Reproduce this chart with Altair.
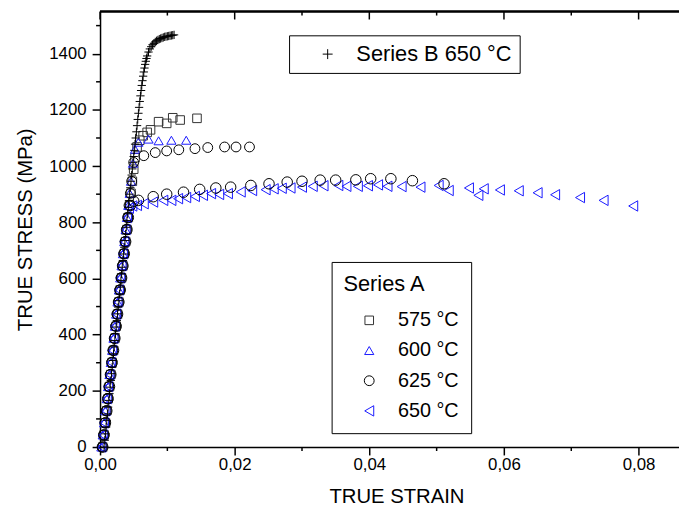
import altair as alt
import pandas as pd

# ---------------- data ----------------
elastic_stress = [0, 43, 86, 129, 172, 215, 258, 301, 344, 387, 430, 473,
                  516, 559, 602, 645, 688, 731, 774, 817, 860, 903, 946]

strain_575 = [0.0004, 0.0006, 0.0008, 0.0010, 0.0012, 0.0014, 0.0016, 0.0018,
              0.0020, 0.0022, 0.0024, 0.0026, 0.0028, 0.0030, 0.0032, 0.0034,
              0.0036, 0.0038, 0.0040, 0.0042, 0.0044, 0.0046, 0.0048,
              0.0050, 0.0052, 0.0055, 0.0059, 0.0064, 0.0070, 0.0075,
              0.0087, 0.0099, 0.0108, 0.0119, 0.0144]
stress_575 = elastic_stress + [989, 1030, 1068, 1092, 1108, 1120, 1129,
                               1158, 1152, 1172, 1164, 1170]

strain_600 = [0.0002, 0.0004, 0.0006, 0.0008, 0.0010, 0.0012, 0.0014, 0.0016,
              0.0018, 0.0020, 0.0022, 0.0024, 0.0026, 0.0028, 0.0030, 0.0032,
              0.0034, 0.0036, 0.0038, 0.0040, 0.0042, 0.0044, 0.0046,
              0.0049, 0.0052, 0.0057, 0.0072, 0.0087, 0.0106, 0.0128]
stress_600 = elastic_stress + [1010, 1060, 1085, 1096, 1090, 1092, 1092]

strain_625 = [0.0003, 0.0005, 0.0007, 0.0009, 0.0011, 0.0013, 0.0015, 0.0017,
              0.0019, 0.0021, 0.0023, 0.0025, 0.0027, 0.0029, 0.0031, 0.0033,
              0.0035, 0.0037, 0.0039, 0.0041, 0.0043, 0.0045, 0.0047,
              0.0050, 0.0065, 0.0082, 0.0099, 0.0117, 0.0141, 0.0160,
              0.0185, 0.0202, 0.0222]
stress_625 = elastic_stress + [1013, 1037, 1048, 1054, 1058, 1062, 1066,
                               1068, 1068, 1068]

strain_650 = [0.0002, 0.0004, 0.0006, 0.0008, 0.0010, 0.0012, 0.0014, 0.0016,
              0.0018, 0.0020, 0.0022, 0.0024, 0.0026, 0.0028, 0.0030, 0.0032,
              0.0034, 0.0036, 0.0038, 0.0040,
              0.0043, 0.0048, 0.0055, 0.0065, 0.0079, 0.0094, 0.0106, 0.0116,
              0.0128, 0.0141, 0.0153, 0.0165, 0.0177, 0.0190, 0.0209, 0.0226,
              0.0246, 0.0258, 0.0270, 0.0283, 0.0300, 0.0316, 0.0332, 0.0354,
              0.0366, 0.0383, 0.0398, 0.0413, 0.0427, 0.0448, 0.0476, 0.0503,
              0.0518, 0.0548, 0.0562, 0.0570, 0.0594, 0.0622, 0.0650, 0.0676,
              0.0713, 0.0748, 0.0792]
stress_650 = elastic_stress[:20] + [850, 858, 860, 866, 872, 878, 878, 884,
                                    888, 892, 896, 902, 899, 902, 908, 913,
                                    916, 919, 921, 922, 925, 928, 930, 931,
                                    928, 928, 930, 933, 928, 927, 925, 931,
                                    913, 922, 896, 919, 915, 912, 905, 898,
                                    888, 878, 858]

# second circle curve drawn without legend entry
strain_circ2 = [0.0004, 0.0006, 0.0008, 0.0010, 0.0012, 0.0014, 0.0016, 0.0018,
                0.0020, 0.0022, 0.0024, 0.0026, 0.0028, 0.0030, 0.0032, 0.0034,
                0.0036, 0.0038, 0.0040, 0.0042,
                0.0045, 0.0050, 0.0057, 0.0079, 0.0099, 0.0124, 0.0148, 0.0172,
                0.0194, 0.0224, 0.0251, 0.0278, 0.0300, 0.0327, 0.0350, 0.0380,
                0.0402, 0.0432, 0.0464, 0.0511]
stress_circ2 = elastic_stress[:20] + [860, 875, 878, 891, 900, 907, 917, 922,
                                      925, 931, 937, 943, 946, 950, 950, 951,
                                      955, 955, 948, 937]

strain_B = [0.0006, 0.0007, 0.0008, 0.0009, 0.0010, 0.0011, 0.0012, 0.0013,
            0.0014, 0.0015, 0.0016, 0.0017, 0.0018, 0.0019, 0.0020, 0.0021,
            0.0022, 0.0023, 0.0024, 0.0025, 0.0026, 0.0027, 0.0028, 0.0029,
            0.0030, 0.0031, 0.0032, 0.0033, 0.0034, 0.0035, 0.0036, 0.0037,
            0.0038, 0.0039, 0.0040, 0.0041, 0.0042, 0.0043, 0.0044, 0.0045,
            0.0046, 0.0047, 0.0048, 0.0049, 0.0050, 0.0051, 0.0052, 0.0053,
            0.0054, 0.0055, 0.0056, 0.0057, 0.0058, 0.0059, 0.0060, 0.0061,
            0.0062, 0.0063, 0.0064, 0.0065, 0.0066, 0.0067, 0.0068, 0.0069,
            0.0070, 0.0072, 0.0074, 0.0076, 0.0078, 0.0080, 0.0082, 0.0084,
            0.0086, 0.0088, 0.0090, 0.0092, 0.0094, 0.0096, 0.0098, 0.0100,
            0.0102, 0.0104, 0.0106, 0.0108, 0.0110]
stress_B = [0, 24, 47, 71, 95, 118, 142, 166, 190, 213, 237, 261, 284, 308,
            332, 356, 379, 403, 427, 450, 474, 498, 521, 545, 569, 593, 616,
            640, 664, 687, 711, 735, 758, 782, 806, 830, 853, 877, 900, 923,
            946, 968, 990, 1012, 1034, 1056, 1078, 1100, 1122, 1144, 1166,
            1188, 1209, 1230, 1250, 1269, 1287, 1304, 1320, 1335, 1349, 1362,
            1373, 1383, 1392, 1406, 1417, 1425, 1432, 1437, 1442, 1446, 1449,
            1452, 1454, 1456, 1458, 1460, 1461, 1462, 1463, 1464, 1465, 1466,
            1467]

series_A_names = ["575 °C", "600 °C", "625 °C", "650 °C"]
series_B_name = "Series B 650 °C"

x_major = [0.0, 0.02, 0.04, 0.06, 0.08]
x_minor = [0.01, 0.03, 0.05, 0.07]
y_major = [0, 200, 400, 600, 800, 1000, 1200, 1400]
y_minor = [100, 300, 500, 700, 900, 1100, 1300, 1500]

# ---------------- tables ----------------
rows = []
for name, sx, sy in zip(series_A_names,
                        [strain_575, strain_600, strain_625, strain_650],
                        [stress_575, stress_600, stress_625, stress_650]):
    for a, b in zip(sx, sy):
        rows.append({"strain": a, "stress": b, "series": name})
df_A = pd.DataFrame(rows)
df_c2 = pd.DataFrame({"strain": strain_circ2, "stress": stress_circ2})
df_B = pd.DataFrame({"strain": strain_B, "stress": stress_B,
                     "series": series_B_name})
df_xmaj = pd.DataFrame({"strain": x_major})
df_xmin = pd.DataFrame({"strain": x_minor})
df_ymin = pd.DataFrame({"stress": y_minor})

# ---------------- styling ----------------
W, H = 585, 440
FONT = "Liberation Sans"
x_scale = alt.Scale(domain=[0, 0.086], nice=False, zero=False)
y_scale = alt.Scale(domain=[0, 1550], nice=False)

x_axis = alt.Axis(values=x_major, tickSize=8, tickWidth=1.5, domainWidth=1.5,
                  domainColor="black", tickColor="black", grid=False,
                  labelFlush=False,
                  labelExpr="replace(format(datum.value, '.2f'), '.', ',')",
                  labelFont=FONT, labelFontSize=17, labelColor="black",
                  labelPadding=2, titleFont=FONT, titleFontSize=20.5,
                  titleFontWeight="normal", titleColor="black",
                  titlePadding=14, titleX=W / 2 + 7)
y_axis = alt.Axis(values=y_major, tickSize=8, tickWidth=1.5, domainWidth=1.5,
                  domainColor="black", tickColor="black", grid=False,
                  labelFlush=False,
                  format="d", labelFont=FONT, labelFontSize=17,
                  labelColor="black", labelPadding=6, titleFont=FONT,
                  titleFontSize=20.5, titleFontWeight="normal",
                  titleColor="black", titlePadding=13)

X = alt.X("strain:Q", scale=x_scale, axis=x_axis, title="TRUE STRAIN")
Y = alt.Y("stress:Q", scale=y_scale, axis=y_axis, title="TRUE STRESS (MPa)")

legend_A = alt.Legend(orient="none", legendX=234, legendY=253, padding=12,
                      strokeColor="black", fillColor="white",
                      title="Series A", titleFont=FONT, titleFontSize=22,
                      titleFontWeight="normal", titleColor="black",
                      titlePadding=15, labelFont=FONT, labelFontSize=20,
                      labelColor="black", symbolSize=80, symbolStrokeWidth=1,
                      symbolOffset=16, labelOffset=19, rowPadding=10.5)
legend_B = alt.Legend(orient="none", legendX=191, legendY=24, padding=8,
                      strokeColor="black", fillColor="white", title=None,
                      labelFont=FONT, labelFontSize=22, labelColor="black",
                      symbolSize=100, symbolStrokeWidth=1, symbolOffset=20,
                      labelOffset=18)

plus_path = "M-1,0L1,0M0,-1L0,1"

pts_A = alt.Chart(df_A).mark_point(filled=False, strokeWidth=1, opacity=1).encode(
    x=X, y=Y,
    shape=alt.Shape("series:N", sort=series_A_names,
                    scale=alt.Scale(domain=series_A_names,
                                    range=["square", "triangle-up", "circle",
                                           "triangle-left"]),
                    legend=legend_A),
    color=alt.Color("series:N", sort=series_A_names,
                    scale=alt.Scale(domain=series_A_names,
                                    range=["#333333", "#1a1aff", "#000000",
                                           "#1a1aff"]),
                    legend=legend_A),
    size=alt.Size("series:N",
                  scale=alt.Scale(domain=series_A_names,
                                  range=[75, 110, 113, 100]),
                  legend=None),
)

pts_c2 = alt.Chart(df_c2).mark_point(filled=False, shape="circle", size=113,
                                     color="black", strokeWidth=1,
                                     opacity=1).encode(x=X, y=Y)

pts_B = alt.Chart(df_B).mark_point(filled=False, strokeWidth=1, size=70,
                                   opacity=1).encode(
    x=X, y=Y,
    shape=alt.Shape("series:N",
                    scale=alt.Scale(domain=[series_B_name], range=[plus_path]),
                    legend=legend_B),
    color=alt.Color("series:N",
                    scale=alt.Scale(domain=[series_B_name], range=["black"]),
                    legend=legend_B),
)

top_line = alt.Chart(df_xmaj).mark_rule(color="black", strokeWidth=1.5).encode(
    x=alt.value(0), x2=alt.value(W), y=alt.value(0))
top_major = alt.Chart(df_xmaj).mark_rule(color="black", strokeWidth=1.5).encode(
    x=X, y=alt.value(0), y2=alt.value(8))
top_minor = alt.Chart(df_xmin).mark_rule(color="black", strokeWidth=1.5).encode(
    x=X, y=alt.value(0), y2=alt.value(4))
bot_minor = alt.Chart(df_xmin).mark_rule(color="black", strokeWidth=1.5).encode(
    x=X, y=alt.value(H), y2=alt.value(H + 4))
left_minor = alt.Chart(df_ymin).mark_rule(color="black", strokeWidth=1.5).encode(
    y=Y, x=alt.value(-4), x2=alt.value(0))

chart = alt.layer(
    pts_A, pts_c2, pts_B, top_line, top_major, top_minor, bot_minor, left_minor
).resolve_scale(
    shape="independent", color="independent", size="independent"
).properties(
    width=W, height=H,
    autosize=alt.AutoSizeParams(type="none"),
    padding={"left": 93, "top": 1, "right": 0, "bottom": 58},
    background="white",
).configure_view(strokeWidth=0)

chart.save("out.html", embed_options={"renderer": "svg", "actions": False})
